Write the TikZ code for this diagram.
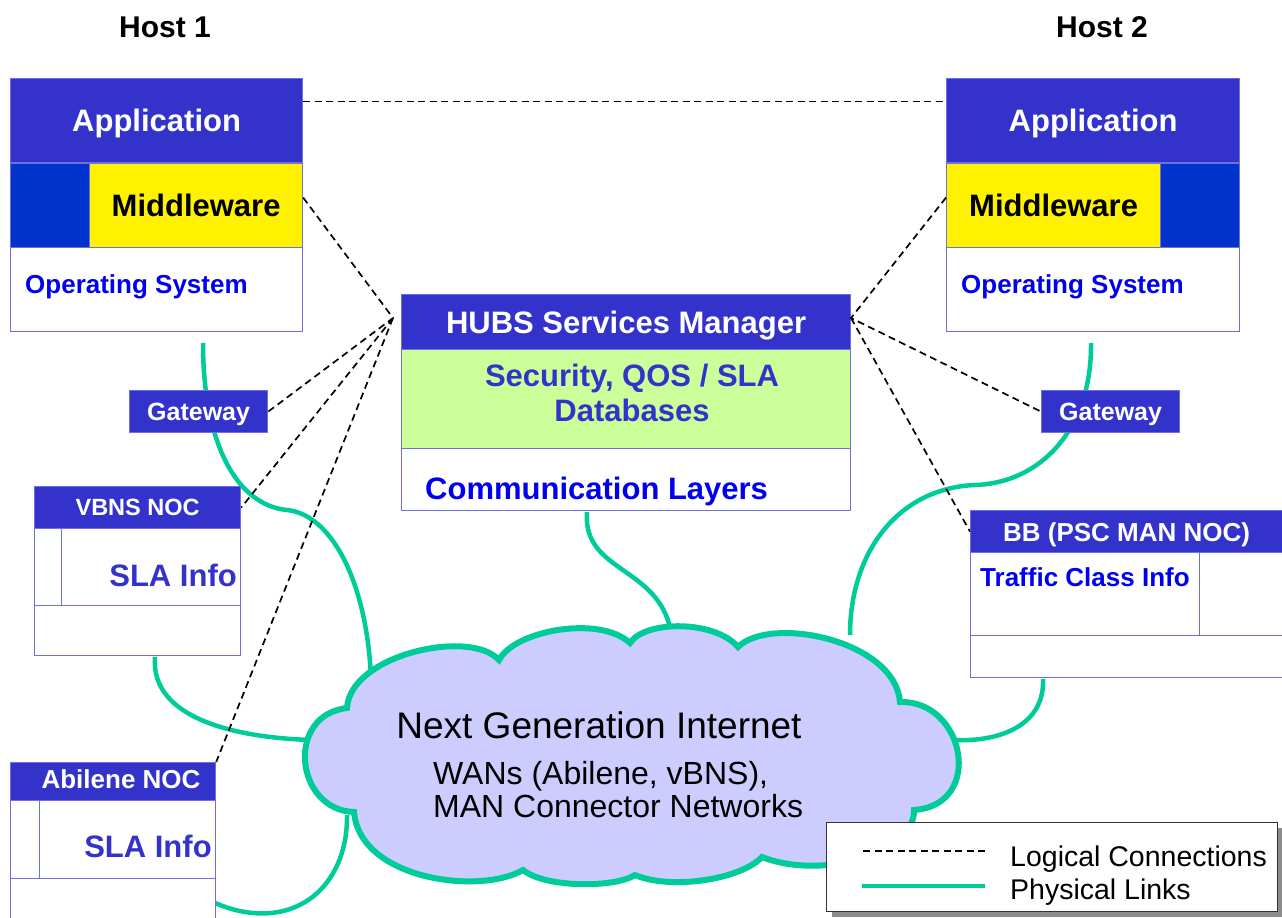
\documentclass[tikz,border=0pt]{standalone}
\usepackage{fontspec}
\setmainfont{Liberation Sans}
\usetikzlibrary{shadows}
\definecolor{hdrblue}{HTML}{3333CC}
\definecolor{deepblue}{HTML}{0033CC}
\definecolor{txtblue}{HTML}{0000EE}
\definecolor{framecol}{HTML}{7070DD}
\definecolor{linkgreen}{HTML}{00CC99}
\definecolor{dbgreen}{HTML}{CCFF99}
\definecolor{cloudfill}{HTML}{CCCCFF}
\begin{document}
\begin{tikzpicture}[x=1pt,y=-1pt,
    cell/.style={draw=framecol,line width=1.2pt,anchor=north west,inner sep=0pt,fill=white,text depth=0pt},
    head/.style={cell,fill=hdrblue,text=white,font=\bfseries\fontsize{#1}{#1}\selectfont},
    head/.default=31,
    bluetext/.style={inner sep=0pt,text depth=0pt,text=#1,font=\bfseries\fontsize{31}{31}\selectfont},
    bluetext/.default=hdrblue,
    logical/.style={line width=1.7pt,dash pattern=on 7pt off 4.5pt},
    physical/.style={linkgreen,line width=4.5pt},
    plaintext/.style={inner sep=0pt,text depth=0pt,font=\fontsize{#1}{#1}\selectfont},
]
\useasboundingbox (0,0) rectangle (1282,918);

% ends of the physical links
\coordinate (p1) at (203,343);
\coordinate (p2) at (155,657);
\coordinate (p3) at (215,903);
\coordinate (p4) at (587,512);
\coordinate (p5) at (1091,343);
\coordinate (p6) at (1043,679);
\coordinate (c1) at (371,680);
\coordinate (c2) at (312,740);
\coordinate (c3) at (347,815);
\coordinate (c4) at (672,640);
\coordinate (c5) at (850,635);
\coordinate (c6) at (955,740);

\draw[physical] (p1) .. controls (203,440) and (235,505) .. (287,510)
                     .. controls (335,515) and (368,590) .. (c1);
\draw[physical] (p2) .. controls (150,720) and (240,738) .. (c2);
\draw[physical] (p3) .. controls (290,935) and (348,890) .. (c3);
\draw[physical] (p4) .. controls (582,575) and (665,565) .. (c4);
\draw[physical] (p5) .. controls (1092,430) and (1040,483) .. (975,485)
                     .. controls (900,488) and (850,550) .. (c5);
\draw[physical] (p6) .. controls (1045,725) and (1000,742) .. (c6);

% the cloud
\draw[linkgreen,line width=6pt,fill=cloudfill]
    (347,708) .. controls (350,655) and (470,628) .. (499,660)
    .. controls (515,630) and (600,615) .. (630,643)
    .. controls (645,620) and (715,620) .. (738,647)
    .. controls (770,615) and (895,640) .. (900,702)
    .. controls (965,700) and (985,805) .. (914,810)
    .. controls (915,855) and (820,880) .. (762,857)
    .. controls (740,880) and (670,890) .. (635,875)
    .. controls (615,888) and (545,888) .. (523,870)
    .. controls (480,895) and (360,880) .. (354,812)
    .. controls (295,810) and (285,715) .. cycle;
\node[plaintext=37] (ngi) at (599,725) {Next Generation Internet};
\node[plaintext=32,anchor=west] (wan1) at (433,773) {WANs (Abilene, vBNS),};
\node[plaintext=32,anchor=west] (wan2) at (433,806) {MAN Connector Networks};

% host 1
\node[inner sep=0pt,font=\bfseries\fontsize{30}{30}\selectfont] (h1) at (165,27) {Host 1};
\node[head,minimum width=292pt,minimum height=84pt] (app1) at (10,78) {Application};
\node[cell,fill=deepblue,minimum width=79pt,minimum height=84pt] (mid1l) at (10,163) {};
\node[cell,fill=yellow,minimum width=213pt,minimum height=84pt,
      font=\bfseries\fontsize{31}{31}\selectfont] (mid1) at (89,163) {Middleware};
\node[cell,minimum width=292pt,minimum height=84pt] (os1) at (10,247) {};
\node[bluetext=txtblue,font=\bfseries\fontsize{26}{26}\selectfont,anchor=west] (os1t) at (25,284) {Operating System};

% host 2
\node[inner sep=0pt,font=\bfseries\fontsize{30}{30}\selectfont] (h2) at (1102,27) {Host 2};
\node[head,minimum width=293pt,minimum height=84pt] (app2) at (946,78) {Application};
\node[cell,fill=yellow,minimum width=214pt,minimum height=84pt,
      font=\bfseries\fontsize{31}{31}\selectfont] (mid2) at (946,163) {Middleware};
\node[cell,fill=deepblue,minimum width=79pt,minimum height=84pt] (mid2r) at (1160,163) {};
\node[cell,minimum width=293pt,minimum height=84pt] (os2) at (946,247) {};
\node[bluetext=txtblue,font=\bfseries\fontsize{26}{26}\selectfont,anchor=west] (os2t) at (961,284) {Operating System};

% hubs services manager
\node[head,minimum width=449pt,minimum height=55pt] (hubH) at (401,294) {HUBS Services Manager};
\node[cell,fill=dbgreen,minimum width=449pt,minimum height=99pt] (hubDB) at (401,349) {};
\node[bluetext,align=center,font=\bfseries\fontsize{31}{35}\selectfont] (hubDBt) at (632,393) {Security, QOS / SLA\\Databases};
\node[cell,minimum width=449pt,minimum height=62pt] (hubCL) at (401,448) {};
\node[bluetext=txtblue,anchor=west] (hubCLt) at (425,488) {Communication Layers};

% gateways
\node[head=25,minimum width=138pt,minimum height=42pt] (gw1) at (129,390) {Gateway};
\node[head=25,minimum width=138pt,minimum height=42pt] (gw2) at (1041,390) {Gateway};

% vBNS noc
\node[head=23.5,minimum width=206pt,minimum height=42pt] (vbnsH) at (34,486) {VBNS NOC};
\node[cell,minimum width=27pt,minimum height=77pt] (vbnsS) at (34,528) {};
\node[cell,minimum width=179pt,minimum height=77pt] (vbnsI) at (61,528) {};
\node[cell,minimum width=206pt,minimum height=50pt] (vbnsF) at (34,605) {};
\node[bluetext,anchor=east] (vbnsT) at (237,575) {SLA Info};

% abilene noc
\node[cell,fill=hdrblue,minimum width=205pt,minimum height=38pt] (abH) at (10,762) {};
\node[inner sep=0pt,text depth=0pt,text=white,font=\bfseries\fontsize{26}{26}\selectfont] (abHt) at (121,779) {Abilene NOC};
\node[cell,minimum width=29pt,minimum height=78pt] (abS) at (10,800) {};
\node[cell,minimum width=176pt,minimum height=78pt] (abI) at (39,800) {};
\node[cell,minimum width=205pt,minimum height=40pt] (abF) at (10,878) {};
\node[bluetext] (abT) at (148,846) {SLA Info};

% bandwidth broker
\node[head=26,minimum width=312pt,minimum height=42pt] (bbH) at (970,510) {BB (PSC MAN NOC)};
\node[cell,minimum width=229pt,minimum height=83pt] (bbI) at (970,552) {};
\node[cell,minimum width=83pt,minimum height=83pt] (bbS) at (1199,552) {};
\node[cell,minimum width=312pt,minimum height=42pt] (bbF) at (970,635) {};
\node[bluetext=txtblue,font=\bfseries\fontsize{26}{26}\selectfont,anchor=west] (bbT) at (980,577) {Traffic Class Info};

% logical connections
\coordinate (hubL) at (393,318);
\coordinate (hubR) at (851,318);
\draw[logical] ([yshift=19pt]app1.east) -- ([yshift=19pt]app2.west);
\draw[logical] ([yshift=8pt]mid1.east) -- (hubL) -- (gw1.east)
               (hubL) -- (vbnsH.east)
               (hubL) -- (abH.north east);
\draw[logical] ([yshift=8pt]mid2.west) -- (hubR) -- (gw2.west)
               (hubR) -- (bbH.west);

% legend
\node[draw=black!80,fill=white,line width=1pt,anchor=north west,minimum width=451pt,minimum height=89pt,
      drop shadow={shadow xshift=5pt,shadow yshift=-5pt,fill=black!45,opacity=1}] (legend) at (826,822) {};
\node[plaintext=28.5,anchor=west] (lg1) at (1010,856) {Logical Connections};
\node[plaintext=28.5,anchor=west] (lg2) at (1010,889) {Physical Links};
\draw[logical] ([xshift=-25pt,yshift=5pt]lg1.west) -- ++(-123,0);
\draw[physical] ([xshift=-25pt,yshift=3pt]lg2.west) -- ++(-123,0);
\end{tikzpicture}
\end{document}
